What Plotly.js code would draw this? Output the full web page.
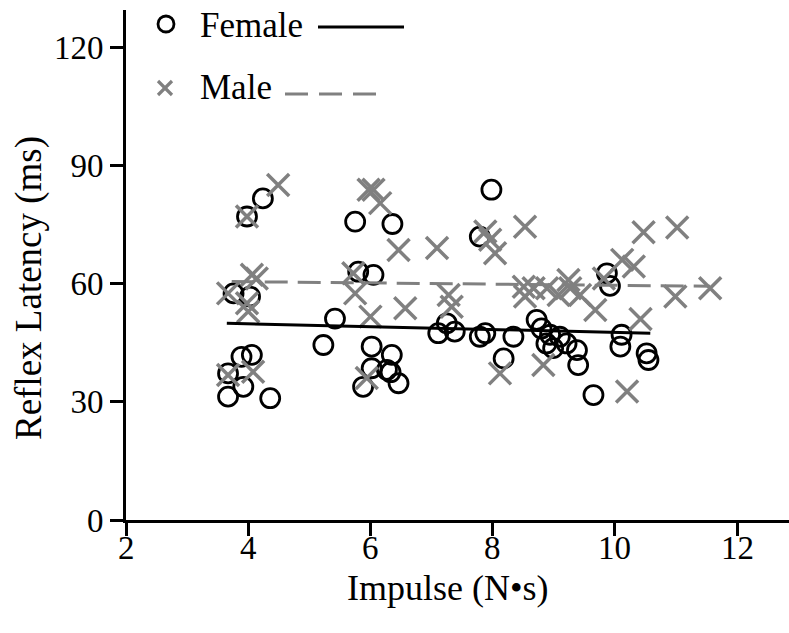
<!DOCTYPE html>
<html>
<head>
<meta charset="utf-8">
<script src="https://cdn.plot.ly/plotly-3.0.1.min.js"></script>
<style>html,body{margin:0;padding:0;background:#fff;}#chart{width:789px;height:633px;}</style>
</head>
<body>
<div id="chart"></div>
<script>
// Female (circles)
var femaleX = [4.24,3.98,3.76,4.03,3.89,4.06,3.67,3.92,3.67,4.36,5.23,5.42,5.75,6.36,5.80,6.05,6.02,6.35,6.02,6.27,6.33,5.88,6.46,7.11,7.25,7.38,7.98,7.79,7.79,7.88,8.34,8.18,8.72,8.80,8.94,9.10,8.88,8.99,9.21,9.38,9.40,9.65,9.87,9.92,10.11,10.09,10.52,10.55];
var femaleY = [81.6,77.0,57.5,56.7,41.4,41.9,37.2,33.8,31.3,30.9,44.4,51.1,75.7,75.1,63.0,62.2,44.0,41.9,38.5,38.1,37.5,33.8,34.7,47.4,49.9,47.8,83.8,71.9,46.5,47.4,46.5,41.0,50.8,48.6,47.0,46.5,44.8,43.6,44.8,43.1,39.3,31.7,62.6,59.4,47.0,44.0,42.3,40.6];
// Male (crosses)
var maleX = [3.67,3.67,3.98,3.98,4.00,4.06,4.14,4.08,4.49,5.72,5.75,5.94,5.97,6.05,6.00,6.16,6.46,6.57,7.09,7.28,7.33,7.88,7.96,8.04,8.12,8.53,8.51,8.53,8.67,8.83,8.89,9.08,9.24,9.27,9.43,9.68,9.82,10.12,10.31,10.47,11.02,10.42,10.99,11.56,10.20];
var maleY = [57.5,36.8,77.0,55.0,52.9,62.2,61.3,37.6,85.0,62.6,57.5,36.0,83.8,83.8,51.6,80.4,68.5,53.7,69.0,57.1,54.1,73.2,71.1,67.7,37.2,74.4,59.2,56.7,58.8,39.3,58.8,57.1,60.9,58.8,57.1,53.3,61.3,66.0,64.3,73.0,74.2,51.0,56.7,58.8,32.6];
// Fitted lines (endpoints)
var femaleFitX = [3.65, 10.58];
var femaleFitY = [49.9, 47.4];
var maleFitX = [3.73, 11.56];
var maleFitY = [60.5, 59.3];
// Axis ticks
var xTicks = [2,4,6,8,10,12];
var yTicks = [0,30,60,90,120];

var FONT = "Liberation Serif, Times New Roman, serif";
var GRAY = "rgb(128,128,128)";
var W = 789, H = 633, L = 126, R = 0, T = 10, B = 113;
var pw = W - L - R, ph = H - T - B;
function px(x){ return (x - L) / pw; }
function py(y){ return (H - B - y) / ph; }

var traces = [
  {x: femaleX, y: femaleY, mode: 'markers', type: 'scatter',
   marker: {symbol: 'circle-open', size: 19, color: '#000', line: {width: 2.8, color: '#000'}}},
  {x: maleX, y: maleY, mode: 'markers', type: 'scatter',
   marker: {symbol: 'x-thin-open', size: 22, color: GRAY, line: {width: 3.5, color: GRAY}}},
  {x: femaleFitX, y: femaleFitY, mode: 'lines', type: 'scatter', line: {color: '#000', width: 3}},
  {x: maleFitX, y: maleFitY, mode: 'lines', type: 'scatter', line: {color: GRAY, width: 3, dash: '23px,10px'}}
];

var annotations = [
  {text: 'Impulse (N\u2022s)', xref: 'paper', yref: 'paper', x: px(448), y: py(588), xanchor: 'center', yanchor: 'middle', borderpad: 0, showarrow: false, font: {family: FONT, size: 36, color: '#000'}},
  {text: 'Reflex Latency (ms)', xref: 'paper', yref: 'paper', x: px(29), y: py(288), xanchor: 'center', yanchor: 'middle', textangle: -90, showarrow: false, font: {family: FONT, size: 37, color: '#000'}},
  {text: 'Female', xref: 'paper', yref: 'paper', x: px(198), y: py(25), xanchor: 'left', yanchor: 'middle', showarrow: false, font: {family: FONT, size: 35, color: '#000'}},
  {text: 'Male', xref: 'paper', yref: 'paper', x: px(198), y: py(87), xanchor: 'left', yanchor: 'middle', showarrow: false, font: {family: FONT, size: 35, color: '#000'}}
];
// x tick labels placed just under the tick marks
xTicks.forEach(function(v){
  annotations.push({text: String(v), xref: 'x', yref: 'paper', x: v, y: py(548), xanchor: 'center', yanchor: 'middle', borderpad: 0, showarrow: false, font: {family: FONT, size: 33, color: '#000'}});
});

var layout = {
  width: W, height: H,
  margin: {l: L, r: R, t: T, b: B, pad: 0},
  paper_bgcolor: '#fff', plot_bgcolor: '#fff',
  showlegend: false,
  font: {family: FONT, color: '#000'},
  xaxis: {range: [2, 12.85], tickvals: xTicks, showticklabels: false,
    showgrid: false, zeroline: false, showline: true, linecolor: '#000', linewidth: 3,
    ticks: 'outside', ticklen: 13, tickwidth: 3, tickcolor: '#000'},
  yaxis: {range: [0, 129.4], tickvals: yTicks, ticktext: yTicks.map(String),
    showgrid: false, zeroline: false, showline: true, linecolor: '#000', linewidth: 3,
    ticks: 'outside', ticklen: 13, tickwidth: 3, tickcolor: '#000',
    tickfont: {family: FONT, size: 33, color: '#000'}},
  annotations: annotations,
  shapes: [
    {type: 'circle', xref: 'paper', yref: 'paper', x0: px(158), x1: px(174), y0: py(16), y1: py(32), line: {color: '#000', width: 2.8}},
    {type: 'line', xref: 'paper', yref: 'paper', x0: px(318), x1: px(404), y0: py(27), y1: py(27), line: {color: '#000', width: 3}},
    {type: 'line', xref: 'paper', yref: 'paper', x0: px(158), x1: px(172), y0: py(81), y1: py(95), line: {color: GRAY, width: 3.2}},
    {type: 'line', xref: 'paper', yref: 'paper', x0: px(158), x1: px(172), y0: py(95), y1: py(81), line: {color: GRAY, width: 3.2}},
    {type: 'line', xref: 'paper', yref: 'paper', x0: px(285), x1: px(378), y0: py(94), y1: py(94), line: {color: GRAY, width: 3, dash: '23px,11px'}}
  ]
};

Plotly.newPlot('chart', traces, layout, {displayModeBar: false, staticPlot: true});
</script>
</body>
</html>
